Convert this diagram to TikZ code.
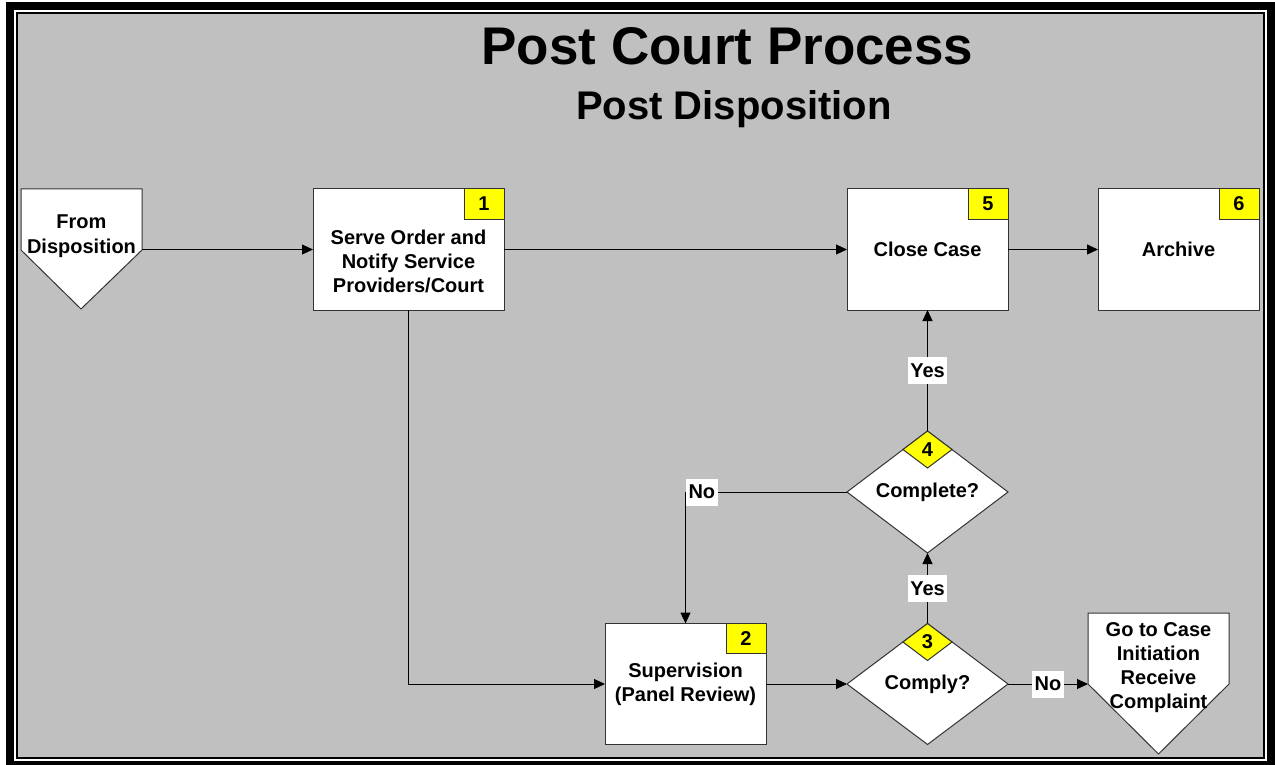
\documentclass[tikz,border=0pt]{standalone}
\usepackage{fontspec}
\setmainfont{Liberation Sans}
\usetikzlibrary{shapes.geometric, arrows.meta, positioning}
\definecolor{panel}{HTML}{C0C0C0}
\definecolor{stepyellow}{HTML}{FFFF00}

\begin{document}
\begin{tikzpicture}[
	x=1pt, y=-1pt,
	every node/.style={
		font=\fontsize{20}{24}\selectfont\bfseries
	},
	process box/.style={
		draw=black!80,
		fill=white,
		line width=1pt,
		minimum width=161pt,
		minimum height=121pt,
		inner sep=0,
		outer sep=0,
		align=center
	},
	decision/.style={
		diamond,
		draw=black!80,
		fill=white,
		line width=1pt,
		minimum width=161pt,
		minimum height=121pt,
		inner sep=0,
		outer sep=0
	},
	step number/.style={
		draw=black!80,
		fill=stepyellow,
		line width=1pt,
		minimum width=40pt,
		minimum height=30pt,
		inner sep=0,
		outer sep=0
	},
	step diamond/.style={
		diamond,
		draw=black!80,
		fill=stepyellow,
		line width=1pt,
		minimum width=49pt,
		minimum height=37pt,
		inner sep=0,
		outer sep=0
	},
	offpage/.style={
		draw=black!80,
		fill=white,
		line width=1pt
	},
	flow/.style={
		-{Triangle[length=11pt,width=10pt]},
		line width=1pt
	},
	answer/.style={
		fill=white,
		inner xsep=2.5pt,
		inner ysep=0pt,
		minimum height=27pt
	}
]
	\useasboundingbox (0,0) rectangle (1275,765);
	% frame
	\fill[black] (6,2) rectangle (1275,765);
	\fill[white] (14,10) rectangle (1267,761);
	\fill[black] (16,12) rectangle (1265,759);
	\fill[panel] (18,14) rectangle (1263,757);

	% titles
	\node[font=\fontsize{53}{60}\selectfont\bfseries, anchor=base] (title) at (727.5,65) {Post Court Process};
	\node[font=\fontsize{40}{48}\selectfont\bfseries, anchor=base] (subtitle) at (734,120) {Post Disposition};

	% off-page connectors
	\draw[offpage] (21,189) -- (142,189) -- (142,250) -- (81,309) -- (21,250) -- cycle;
	\node[align=center, font=\fontsize{20}{25}\selectfont\bfseries] (from) at (81.5,236.5) {From\\Disposition};
	\coordinate (from tip) at (142,249.5);

	\draw[offpage] (1088,613) -- (1229,613) -- (1229,684) -- (1158.5,754) -- (1088,684) -- cycle;
	\coordinate (goto tip) at (1088,684);

	% steps
	\node[process box, minimum width=191pt] (serve) at (408.5,249.5) {};
	\node[align=center] (serve text) at (408.5,261) {Serve Order and\\Notify Service\\Providers/Court};
	\node[step number, anchor=north east] (serve num) at (serve.north east) {1};
	\node[process box] (sup) at (685.5,684) {Supervision\\(Panel Review)};
	\node[step number, anchor=north east] (sup num) at (sup.north east) {2};
	\node[process box] (close) at (927.5,249.5) {Close Case};
	\node[step number, anchor=north east] (close num) at (close.north east) {5};
	\node[process box] (archive) at (1178.5,249.5) {Archive};
	\node[step number, anchor=north east] (archive num) at (archive.north east) {6};

	% decisions
	\node[decision] (comply) at (927.5,684) {Comply?};
	\node[step diamond, anchor=north] (comply num) at (comply.north) {3};
	\node[decision] (complete) at (927.5,492) {Complete?};
	\node[step diamond, anchor=north] (complete num) at (complete.north) {4};

	\node[align=center] (goto) at (1158.5,668) {Go to Case\\Initiation\\Receive\\Complaint};

	% connectors
	\draw[flow] (from tip) -- (serve.west);
	\draw[flow] (serve) -- (close);
	\draw[flow] (close) -- (archive);
	\draw[flow] (serve.south) |- (sup.west);
	\draw[flow] (sup) -- (comply);
	\draw[flow] (comply.east) -- node[answer] {No} (goto tip);
	\draw[flow] (comply) -- node[answer] {Yes} (complete);
	\draw[flow] (complete) -- node[answer] {Yes} (close);
	\draw[flow] (complete.west) -| node[answer, pos=0.5, anchor=west] {No} (sup.north);
\end{tikzpicture}
\end{document}
